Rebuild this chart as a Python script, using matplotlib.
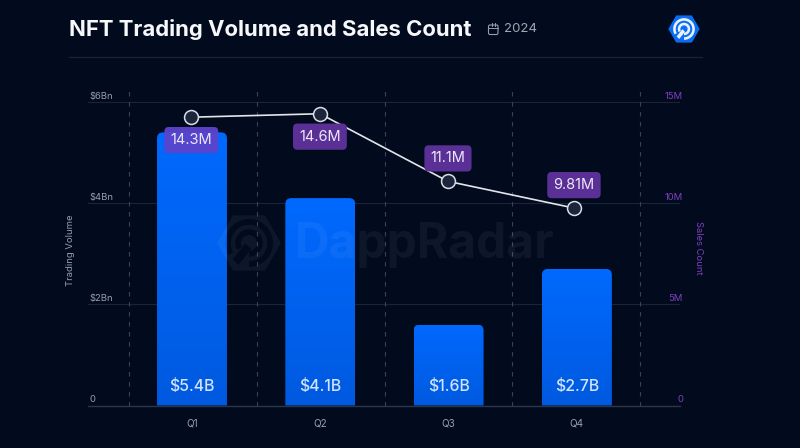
import numpy as np
import matplotlib
matplotlib.use('Agg')
import matplotlib.pyplot as plt
from matplotlib.path import Path
from matplotlib.patches import PathPatch, FancyBboxPatch

quarters = ['Q1', 'Q2', 'Q3', 'Q4']
volume_bn = [5.4, 4.1, 1.6, 2.7]
volume_labels = ['$5.4B', '$4.1B', '$1.6B', '$2.7B']
# where the points actually sit in the picture, the labels differ a bit
sales_m = [14.25, 14.42, 11.08, 9.76]
sales_labels = ['14.3M', '14.6M', '11.1M', '9.81M']
vol_ticks = [0, 2, 4, 6]
vol_ticklabels = ['0', '$2Bn', '$4Bn', '$6Bn']
sales_ticks = [0, 5, 10, 15]
sales_ticklabels = ['0', '5M', '10M', '15M']

BG = '#020a1e'
GRID = '#1b2336'
DASH = '#3a4355'
GREY = '#979eab'
PURPLE = '#7f40c0'

plt.rcParams['font.family'] = ['Inter', 'DejaVu Sans']

W, H = 800, 448
fig = plt.figure(figsize=(W / 100, H / 100), dpi=100, facecolor=BG)

# plot area in pixels
left, right, top, bottom = 88, 680, 89, 405.5
ax = fig.add_axes([left / W, 1 - bottom / H, (right - left) / W, (bottom - top) / H], facecolor='none')
x = np.arange(len(quarters))
xlim = ((left - 192) / 128.3, (right - 192) / 128.3)
vol_top = (bottom - top) / 50.58
bar_w = 0.545

for s in ax.spines.values():
    s.set_visible(False)
ax.spines['bottom'].set_visible(True)
ax.spines['bottom'].set_color('#2d3549')
ax.spines['bottom'].set_linewidth(1.0)

ax.set_xticks(x, quarters)
ax.set_yticks(vol_ticks, [])
ax.tick_params(length=0, pad=9, labelsize=7.2, colors=GREY)
ax.grid(axis='y', color=GRID, lw=0.8)
ax.set_axisbelow(True)
for d in [-0.49, 0.507, 1.504, 2.494, 3.488]:
    ax.axvline(d, color=DASH, lw=0.8, dashes=(4, 5), zorder=1)

# blue bars with a vertical gradient and rounded tops
bars = ax.bar(x, volume_bn, bar_w, color='none', zorder=2)
grad = np.linspace(0, 1, 128).reshape(-1, 1, 1)
c_top = np.array([0, 105, 254]) / 255
c_bot = np.array([0, 90, 224]) / 255
img = c_top + (c_bot - c_top) * grad
rx, ry = 6 / 128.3, 6 / 50.58
for b in bars:
    x0, x1, h = b.get_x(), b.get_x() + b.get_width(), b.get_height()
    verts = [(x0, 0), (x0, h - ry), (x0, h), (x0 + rx, h), (x1 - rx, h), (x1, h), (x1, h - ry), (x1, 0), (x0, 0)]
    codes = [Path.MOVETO, Path.LINETO, Path.CURVE3, Path.CURVE3, Path.LINETO, Path.CURVE3, Path.CURVE3, Path.LINETO, Path.CLOSEPOLY]
    patch = PathPatch(Path(verts, codes), fc='none', ec='none', transform=ax.transData)
    ax.add_patch(patch)
    im = ax.imshow(img, extent=(x0, x1, 0, h), aspect='auto', zorder=2.5)
    im.set_clip_path(patch)

for xi, lab in zip(x, volume_labels):
    ax.annotate(lab, (xi, 0), xytext=(0, 14), textcoords='offset points', ha='center', va='center',
                color='#d3e4ff', fontsize=11.4, fontweight='medium', zorder=4)

ax.set_xlim(*xlim)
ax.set_ylim(0, vol_top)

# sales line on the second scale
ax2 = ax.twinx()
ax2.set_facecolor('none')
for s in ax2.spines.values():
    s.set_visible(False)
ax2.set_ylim(0, vol_top * 2.5)
ax2.set_yticks(sales_ticks, [])
ax2.tick_params(length=0)
line_x = [-0.005, 0.997, 1.995, 2.977]
ax2.plot(line_x, sales_m, color='#e2e5ea', lw=1.2, marker='o', ms=10, mfc='#1b263c', mec='#d9dee6', mew=1.1, zorder=5)

offsets = [-16.5, -16.5, 16.5, 16.5]
pill_cols = [(0.36, 0.27, 0.80, 0.95), '#5a2f96', '#5a2f96', '#5a2f96']
for xi, yi, lab, off, col in zip(line_x, sales_m, sales_labels, offsets, pill_cols):
    ax2.annotate(lab, (xi, yi), xytext=(0, off), textcoords='offset points', ha='center', va='center',
                 color='#eee8fb', fontsize=10.5, zorder=6,
                 bbox=dict(boxstyle='round,pad=0.42,rounding_size=0.3', fc=col, ec='none'))

# overlay in pixel coordinates for header, tick texts and logos
ov = fig.add_axes([0, 0, 1, 1], facecolor='none')
ov.set_xlim(0, W)
ov.set_ylim(H, 0)
ov.axis('off')


def oriented(poly, sign):
    # shoelace area, flip the point order so all holes wind the same way
    p = np.array(poly)
    area = np.sum(p[:, 0] * np.roll(p[:, 1], -1) - np.roll(p[:, 0], -1) * p[:, 1])
    return poly if area * sign > 0 else poly[::-1]


def logo_shapes(cx, cy, r):
    hexa = [(cx + r * np.cos(a), cy + r * np.sin(a)) for a in np.radians(np.arange(0, 360, 60))]
    marks = []
    for rr in (0.66, 0.34):
        t = np.radians(np.linspace(150, 450, 60))
        outer = [(cx + (rr + 0.09) * r * np.cos(a), cy + (rr + 0.09) * r * np.sin(a)) for a in t]
        inner = [(cx + (rr - 0.09) * r * np.cos(a), cy + (rr - 0.09) * r * np.sin(a)) for a in t[::-1]]
        marks.append(outer + inner)
    w = 0.09 * r
    x0, y0, x1, y1 = cx - 0.42 * r, cy + 0.6 * r, cx - 0.02 * r, cy + 0.1 * r
    marks.append([(x0 - w, y0 - w), (x1 - w, y1 - w), (x1 + w, y1 + w), (x0 + w, y0 + w)])
    return hexa, marks


def compound(polys):
    verts, codes = [], []
    for p in polys:
        verts += list(p) + [p[0]]
        codes += [Path.MOVETO] + [Path.LINETO] * (len(p) - 1) + [Path.CLOSEPOLY]
    return Path(verts, codes)


ov.text(69, 29.5, 'NFT Trading Volume and Sales Count', color='#f7f8fa', fontsize=15.9, fontweight='bold', va='center', ha='left')
ov.plot([69, 702], [57.5, 57.5], color=GRID, lw=0.9)
ov.add_patch(FancyBboxPatch((488.5, 25), 9.5, 9.5, boxstyle='round,pad=0,rounding_size=1.5', fc='none', ec=GREY, lw=0.8))
ov.plot([488.5, 498], [28, 28], color=GREY, lw=0.7)
ov.plot([491.5, 491.5], [23.5, 26], color=GREY, lw=0.7)
ov.plot([495, 495], [23.5, 26], color=GREY, lw=0.7)
ov.text(504, 29.5, '2024', color='#a0a7b3', fontsize=9.5, va='center', ha='left')

# small logo top right
hexa, marks = logo_shapes(684, 29, 14.5)
ov.add_patch(PathPatch(compound([hexa]), fc='#0a6cf0', ec='#0a6cf0', lw=1.5, joinstyle='round'))
for m in marks:
    ov.add_patch(PathPatch(compound([m]), fc='#e8f1ff', ec='none'))

# watermark, logo marks are holes so the dark shows through
hexa, marks = logo_shapes(249, 243, 32)
polys = [oriented(hexa, 1)] + [oriented(m, -1) for m in marks]
ov.add_patch(PathPatch(compound(polys), fc='white', ec='none', alpha=0.05))
ov.text(295, 245, 'DappRadar', color='white', alpha=0.05, fontsize=34.5, fontweight='bold', va='center', ha='left')

# tick labels sit above the grid lines
for v, lab in zip(vol_ticks, vol_ticklabels):
    ypx = bottom - v * 50.58
    ov.text(89, ypx - 5.5, lab, color=GREY, fontsize=6.8, va='center', ha='left')
for v, lab in zip(sales_ticks, sales_ticklabels):
    ypx = bottom - v / 2.5 * 50.58
    ov.text(683, ypx - 5.5, lab, color=PURPLE, fontsize=6.8, va='center', ha='right')
ov.text(70.5, 250, 'Trading Volume', color=GREY, fontsize=6.8, rotation=90, va='center', ha='center')
ov.text(698, 248, 'Sales Count', color=PURPLE, fontsize=6.8, rotation=270, va='center', ha='center')

fig.savefig('out.png', dpi=100, facecolor=BG)
